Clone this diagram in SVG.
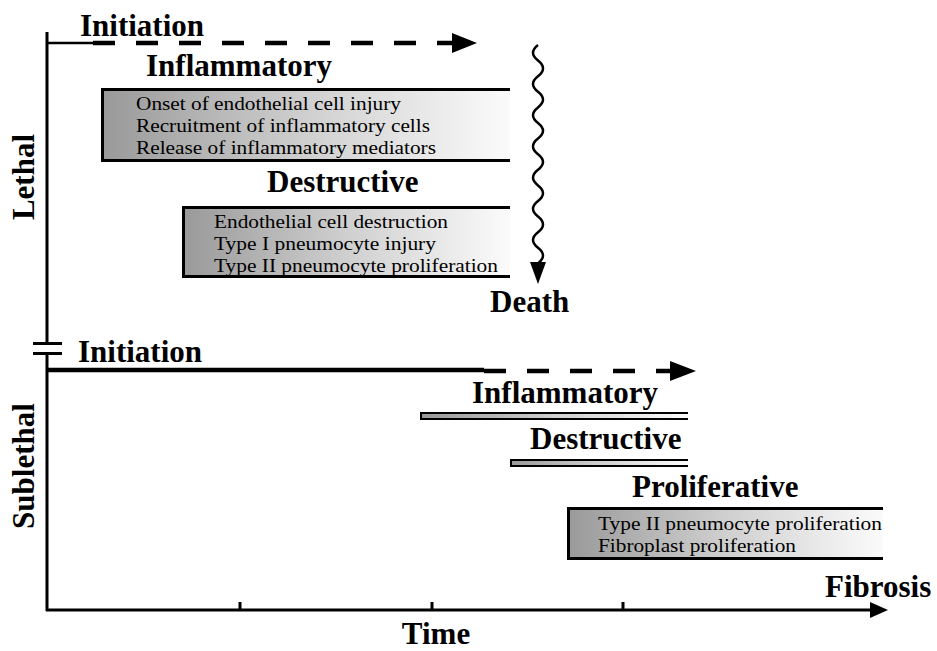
<svg xmlns="http://www.w3.org/2000/svg" width="937" height="651" viewBox="0 0 937 651">
<defs>
<linearGradient id="g" x1="0" y1="0" x2="1" y2="0">
<stop offset="0" stop-color="#999"/>
<stop offset="0.5" stop-color="#cfcfcf"/>
<stop offset="1" stop-color="#fbfbfb"/>
</linearGradient>
<style>
.h{font-family:"Liberation Serif","Times New Roman",serif;font-weight:bold;font-size:31px;fill:#000}
.b{font-family:"Liberation Serif","Times New Roman",serif;font-size:19.7px;fill:#000}
.ln{fill:none;stroke:#000;stroke-width:3}
.bd{fill:none;stroke:#000;stroke-width:3}
.bb{fill:none;stroke:#000;stroke-width:2}
.ds{fill:none;stroke:#000;stroke-width:4.5;stroke-dasharray:22 21}
</style>
</defs>
<rect width="937" height="651" fill="#fff"/>

<g id="axes">
<path class="ln" d="M47,32 V345 M47,352 V611"/>
<path class="ln" stroke-width="2.5" d="M33,343.5 H62 M33,353.5 H62"/>
<path class="ln" d="M46,610 H872"/>
<polygon points="870,602 888,610 870,618" fill="#000"/>
<path class="ln" stroke-width="2.5" d="M240,602 V610 M432,602 V610 M623,602 V610"/>
<text class="h" x="436" y="644" text-anchor="middle">Time</text>
<text class="h" transform="translate(34,177) rotate(-90)" text-anchor="middle">Lethal</text>
<text class="h" transform="translate(34,466) rotate(-90)" text-anchor="middle">Sublethal</text>
</g>

<g id="connectors">
<path fill="none" stroke="#000" stroke-width="2.5" d="M47,43 H94"/>
<path class="ds" d="M93,43 H453"/>
<polygon points="452,33 477,43 452,53" fill="#000"/>
<path fill="none" stroke="#000" stroke-width="4.5" d="M47,370 H484"/>
<path class="ds" d="M484,371 H671"/>
<polygon points="670,361 696,371 670,381" fill="#000"/>
<path fill="none" stroke="#000" stroke-width="2.5" d="M538,45 q-10,7.8 0,15.6 t0,15.6 t0,15.6 t0,15.6 t0,15.6 t0,15.6 t0,15.6 t0,15.6 t0,15.6 t0,15.6 t0,15.6 t0,15.6 t0,15.6 t0,15.6"/>
<polygon points="530,262 546,262 538,284" fill="#000"/>
</g>

<g id="lethal-initiation"><text class="h" x="80" y="36">Initiation</text></g>

<g id="lethal-inflammatory">
<text class="h" x="146" y="76">Inflammatory</text>
<rect x="101" y="88" width="409" height="74" fill="url(#g)"/>
<path class="bd" d="M510,89.5 H102.5 V160.5 H510"/>
<text class="b" x="136" y="110" textLength="265" lengthAdjust="spacingAndGlyphs">Onset of endothelial cell injury</text>
<text class="b" x="136" y="132" textLength="294" lengthAdjust="spacingAndGlyphs">Recruitment of inflammatory cells</text>
<text class="b" x="136" y="154" textLength="300" lengthAdjust="spacingAndGlyphs">Release of inflammatory mediators</text>
</g>

<g id="lethal-destructive">
<text class="h" x="267" y="192">Destructive</text>
<rect x="182" y="206" width="328" height="72" fill="url(#g)"/>
<path class="bd" d="M510,207.5 H183.5 V276.5 H510"/>
<text class="b" x="214" y="228" textLength="234" lengthAdjust="spacingAndGlyphs">Endothelial cell destruction</text>
<text class="b" x="214" y="250" textLength="222" lengthAdjust="spacingAndGlyphs">Type I pneumocyte injury</text>
<text class="b" x="214" y="272" textLength="284" lengthAdjust="spacingAndGlyphs">Type II pneumocyte proliferation</text>
</g>

<g id="death"><text class="h" x="490" y="312">Death</text></g>

<g id="sublethal-initiation"><text class="h" x="78" y="362">Initiation</text></g>

<g id="sublethal-inflammatory">
<text class="h" x="472" y="403">Inflammatory</text>
<rect x="420" y="412" width="268" height="8" fill="url(#g)"/>
<path class="bb" d="M688,413 H421 V419 H688"/>
</g>

<g id="sublethal-destructive">
<text class="h" x="530" y="449">Destructive</text>
<rect x="510" y="459" width="178" height="8" fill="url(#g)"/>
<path class="bb" d="M688,460 H511 V466 H688"/>
</g>

<g id="proliferative">
<text class="h" x="632" y="497">Proliferative</text>
<rect x="567" y="507" width="316" height="53" fill="url(#g)"/>
<path class="bd" d="M883,508.5 H568.5 V558.5 H883"/>
<text class="b" x="598" y="530" textLength="284" lengthAdjust="spacingAndGlyphs">Type II pneumocyte proliferation</text>
<text class="b" x="598" y="552" textLength="198" lengthAdjust="spacingAndGlyphs">Fibroplast proliferation</text>
</g>

<g id="fibrosis"><text class="h" x="825" y="597">Fibrosis</text></g>
</svg>
